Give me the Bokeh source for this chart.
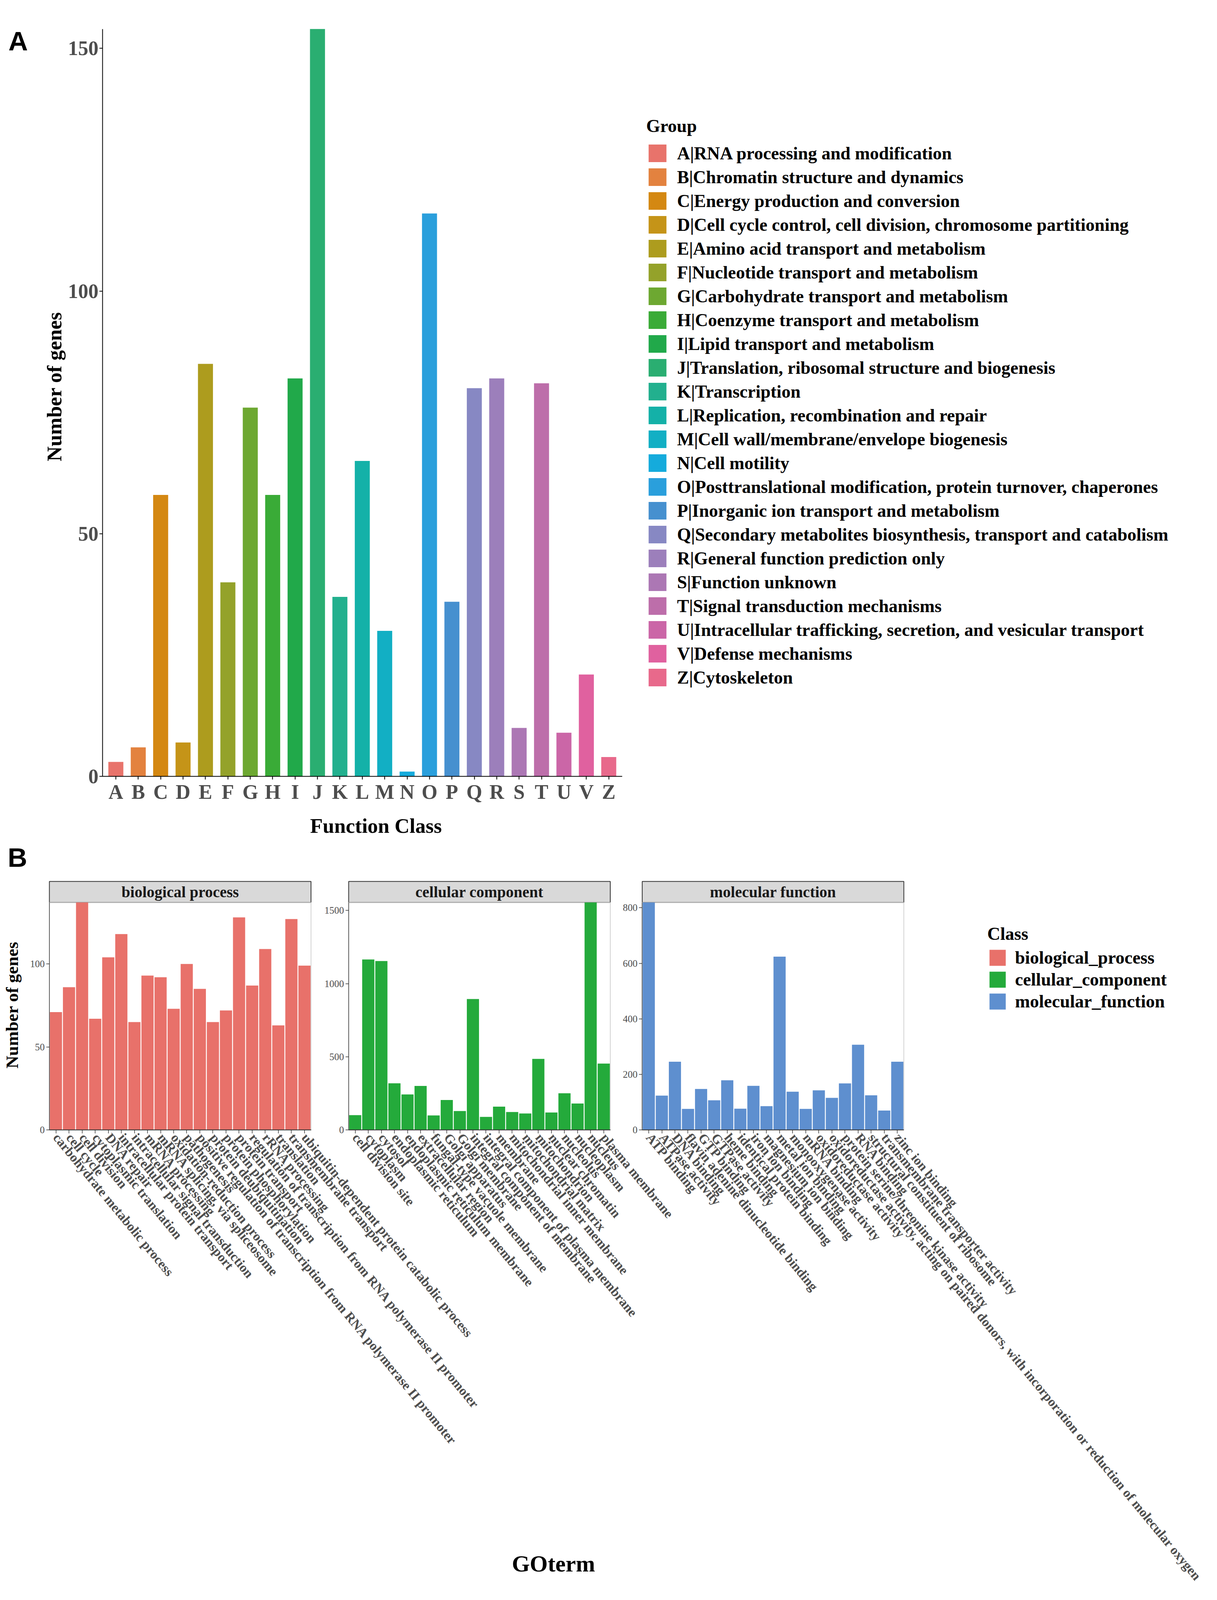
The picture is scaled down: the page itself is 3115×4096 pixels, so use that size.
from math import pi
from bokeh.plotting import figure
from bokeh.models import (ColumnDataSource, Range1d, Label, Legend, LegendItem,
                          SingleIntervalTicker, FixedTicker, LinearAxis)
from bokeh.layouts import column
from bokeh.core.properties import value
from bokeh.embed import file_html
from bokeh.resources import INLINE

# ---------------- data : panel A (COG function classes) ----------------
cog_letters = ["A", "B", "C", "D", "E", "F", "G", "H", "I", "J", "K", "L", "M",
               "N", "O", "P", "Q", "R", "S", "T", "U", "V", "Z"]
cog_groups = [
    "A|RNA processing and modification",
    "B|Chromatin structure and dynamics",
    "C|Energy production and conversion",
    "D|Cell cycle control, cell division, chromosome partitioning",
    "E|Amino acid transport and metabolism",
    "F|Nucleotide transport and metabolism",
    "G|Carbohydrate transport and metabolism",
    "H|Coenzyme transport and metabolism",
    "I|Lipid transport and metabolism",
    "J|Translation, ribosomal structure and biogenesis",
    "K|Transcription",
    "L|Replication, recombination and repair",
    "M|Cell wall/membrane/envelope biogenesis",
    "N|Cell motility",
    "O|Posttranslational modification, protein turnover, chaperones",
    "P|Inorganic ion transport and metabolism",
    "Q|Secondary metabolites biosynthesis, transport and catabolism",
    "R|General function prediction only",
    "S|Function unknown",
    "T|Signal transduction mechanisms",
    "U|Intracellular trafficking, secretion, and vesicular transport",
    "V|Defense mechanisms",
    "Z|Cytoskeleton",
]
cog_counts = [3, 6, 58, 7, 85, 40, 76, 58, 82, 154, 37, 65, 30, 1, 116, 36, 80, 82, 10, 81, 9, 21, 4]
cog_colors = ["#E8736B", "#E3823F", "#D48812", "#C59418", "#AD9C1E", "#94A22A", "#6DA831",
              "#3AAB37", "#21A94A", "#2AAE71", "#22B08E", "#14B1A8", "#12AFC4", "#15ABDC",
              "#2A9FDC", "#4690CF", "#8788C3", "#9C7FBB", "#AC77B4", "#BD6EAA", "#CB66A7",
              "#E0619F", "#E8698B"]

# ---------------- data : panel B (GO terms) ----------------
facet_names = ["biological process", "cellular component", "molecular function"]
class_names = ["biological_process", "cellular_component", "molecular_function"]
class_colors = ["#E8716A", "#24AA3B", "#5E8FCF"]

bp_terms = ["carbohydrate metabolic process", "cell cycle", "cell division", "cytoplasmic translation",
            "DNA repair", "intracellular protein transport", "intracellular signal transduction",
            "mRNA processing", "mRNA splicing, via spliceosome", "oxidation-reduction process",
            "pathogenesis", "positive regulation of transcription from RNA polymerase II promoter",
            "protein deubiquitination", "protein phosphorylation", "protein transport",
            "regulation of transcription from RNA polymerase II promoter", "rRNA processing",
            "translation", "transmembrane transport", "ubiquitin-dependent protein catabolic process"]
bp_counts = [71, 86, 137, 67, 104, 118, 65, 93, 92, 73, 100, 85, 65, 72, 128, 87, 109, 63, 127, 99]

cc_terms = ["cell division site", "cytoplasm", "cytosol", "endoplasmic reticulum",
            "endoplasmic reticulum membrane", "extracellular region", "fungal-type vacuole membrane",
            "Golgi apparatus", "Golgi membrane", "integral component of membrane",
            "integral component of plasma membrane", "membrane", "mitochondrial inner membrane",
            "mitochondrial matrix", "mitochondrion", "nuclear chromatin", "nucleolus",
            "nucleoplasm", "nucleus", "plasma membrane"]
cc_counts = [102, 1165, 1154, 319, 243, 301, 100, 205, 130, 895, 90, 160, 123, 113, 486, 120, 251, 181, 1554, 454]

mf_terms = ["ATP binding", "ATPase activity", "DNA binding", "flavin adenine dinucleotide binding",
            "GTP binding", "GTPase activity", "heme binding", "identical protein binding",
            "iron ion binding", "magnesium ion binding", "metal ion binding", "monooxygenase activity",
            "mRNA binding", "oxidoreductase activity",
            "oxidoreductase activity, acting on paired donors, with incorporation or reduction of molecular oxygen",
            "protein serine/threonine kinase activity", "RNA binding", "structural constituent of ribosome",
            "transmembrane transporter activity", "zinc ion binding"]
mf_counts = [819, 124, 246, 76, 148, 107, 179, 77, 159, 86, 624, 138, 76, 143, 116, 168, 307, 125, 70, 246]

# ---------------- layout helpers ----------------
S = 0.884
def L(v):            # reference pixel -> page pixel inside the 8px margin
    return S * v - 8

W = 3099
SERIF = "Liberation Serif"
SANS = "Liberation Sans"

def styled_axis(ax, size, bold, color, tick_out, tick_w, line_w, line_color="black"):
    ax.axis_line_color = line_color
    ax.axis_line_width = line_w
    ax.major_tick_line_color = line_color
    ax.major_tick_line_width = tick_w
    ax.major_tick_out = tick_out
    ax.major_tick_in = 0
    ax.minor_tick_line_color = None
    ax.major_label_text_font = SERIF
    ax.major_label_text_font_size = size
    ax.major_label_text_font_style = "bold" if bold else "normal"
    ax.major_label_text_color = color
    return ax

# ======================= Panel A =======================
A_H = 2150
a_l, a_r = L(305), L(1810)          # frame edges (page px)
a_t, a_b = L(92.5), L(2257)
cog_pos = [i + 1 for i in range(len(cog_letters))]
xa_lo, xa_hi = 0.4, len(cog_letters) + 0.6     # ggplot discrete expansion
sxA = (a_r - a_l) / (xa_hi - xa_lo)
ya_hi = max(cog_counts)
syA = (a_b - a_t) / ya_hi

pA = figure(width=W, height=A_H, title=None,
            x_range=Range1d(xa_lo - a_l / sxA, xa_lo + (W - a_l) / sxA),
            y_range=Range1d(-(A_H - a_b) / syA, ya_hi + a_t / syA),
            x_axis_location=None, y_axis_location=None,
            output_backend="svg", toolbar_location=None, min_border=0)
pA.outline_line_color = None
pA.grid.visible = False

srcA = ColumnDataSource(dict(x=cog_pos, count=cog_counts, color=cog_colors, group=cog_groups))
rA = pA.vbar(x="x", top="count", width=0.67, fill_color="color", line_color=None, source=srcA)

xaxA = LinearAxis(fixed_location=0, bounds=(xa_lo, xa_hi),
                  ticker=FixedTicker(ticks=cog_pos, minor_ticks=[]),
                  major_label_overrides=dict(zip(cog_pos, cog_letters)))
styled_axis(xaxA, "52px", True, "#4d4d4d", 8, 2, 2)
xaxA.major_label_standoff = 3
pA.add_layout(xaxA, "below")

yaxA = LinearAxis(fixed_location=xa_lo, bounds=(0, ya_hi),
                  ticker=SingleIntervalTicker(interval=50, num_minor_ticks=0))
styled_axis(yaxA, "52px", True, "#4d4d4d", 8, 2, 2)
yaxA.major_label_standoff = 2
pA.add_layout(yaxA, "left")

def labelA(x, y, text, size, font=SERIF, angle=0):
    pA.add_layout(Label(x=L(x), y=A_H - L(y), x_units="screen", y_units="screen",
                        text=text, angle=angle, text_align="center", text_baseline="middle",
                        text_font=font, text_font_size=size, text_font_style="bold",
                        text_color="black"))

labelA(166, 1128, "Number of genes", "53px", angle=pi / 2)
labelA(1097, 2400, "Function Class", "53px")
labelA(61, 128, "A", "69px", font=SANS)

itemsA = [LegendItem(label=value(g), renderers=[rA], index=i) for i, g in enumerate(cog_groups)]
legA = Legend(items=itemsA, location=(round(L(1880)), round(A_H - L(2002))),
              title="Group", orientation="vertical",
              glyph_width=57, glyph_height=56, label_height=56, spacing=5,
              padding=0, margin=0, label_standoff=22,
              border_line_color=None, background_fill_alpha=0,
              label_text_font=SERIF, label_text_font_size="46px", label_text_font_style="bold",
              label_text_color="black",
              title_text_font=SERIF, title_text_font_size="46px", title_text_font_style="bold",
              title_text_color="black", title_standoff=15)
pA.add_layout(legA)

# ======================= Panel B =======================
B_H = 4080 - A_H
b_l = L(151.5)
f_bot = L(3281) - A_H          # facet bottom (canvas px from top)
f_top = L(2622) - A_H          # facet top / strip bottom
s_top = L(2561) - A_H          # strip top
facet_h = f_bot - f_top
strip_top = f_bot - s_top
pitch_ref = 757.5 / 20
pitch = S * pitch_ref
facet_left_ref = [151.5, 1018, 1868]
starts = [0.5 + (r - facet_left_ref[0]) / pitch_ref for r in facet_left_ref]

pB = figure(width=W, height=B_H, title=None,
            x_range=Range1d(0.5 - b_l / pitch, 0.5 + (W - b_l) / pitch),
            y_range=Range1d(-(B_H - f_bot), f_bot),
            x_axis_location=None, y_axis_location=None,
            output_backend="svg", toolbar_location=None, min_border=0)
pB.outline_line_color = None
pB.grid.visible = False

series = [("bp", bp_terms, bp_counts, 50), ("cc", cc_terms, cc_counts, 500), ("mf", mf_terms, mf_counts, 200)]
pB.extra_y_ranges = {name: Range1d(-(B_H - f_bot) * max(cnt) / facet_h, f_bot * max(cnt) / facet_h)
                     for name, _, cnt, _ in series}

f_left = starts
f_right = [s + 20 for s in starts]

# facet strips
pB.quad(left=f_left, right=f_right, bottom=facet_h, top=strip_top, fill_color="#D9D9D9",
        line_color="#333333", line_width=2)
pB.text(x=[s + 10 for s in starts], y=[(facet_h + strip_top) / 2] * 3, text=facet_names,
        text_font=value(SERIF), text_font_size="40px", text_font_style="bold",
        text_align="center", text_baseline="middle", text_color="#1a1a1a")
# panel borders
pB.quad(left=f_left, right=f_right, bottom=0, top=facet_h, fill_color=None,
        line_color="#C4C4C4", line_width=1.5)

renderersB = []
for k, (name, terms, cnt, iv) in enumerate(series):
    pos = [starts[k] + 0.5 + i for i in range(len(terms))]
    src = ColumnDataSource(dict(x=pos, top=cnt, term=terms))
    r = pB.vbar(x="x", top="top", width=0.93, source=src, y_range_name=name,
                fill_color=class_colors[k], line_color=None)
    renderersB.append(r)

    yax = LinearAxis(y_range_name=name, fixed_location=starts[k], bounds=(0, max(cnt)),
                     ticker=SingleIntervalTicker(interval=iv, num_minor_ticks=0))
    styled_axis(yax, "25px", False, "#4d4d4d", 8, 1.5, 1.5, "#333333")
    yax.major_label_standoff = 4
    pB.add_layout(yax, "left")

    xax = LinearAxis(fixed_location=0, bounds=(starts[k], starts[k] + 20),
                     ticker=FixedTicker(ticks=pos, minor_ticks=[]),
                     major_label_overrides=dict(zip(pos, terms)))
    styled_axis(xax, "34px", True, "#4d4d4d", 9, 1.5, 2, "#333333")
    xax.major_label_orientation = -0.88
    xax.major_label_standoff = 4
    pB.add_layout(xax, "below")

def labelB(x, y, text, size, font=SERIF, angle=0):
    pB.add_layout(Label(x=L(x), y=B_H - (L(y) - A_H), x_units="screen", y_units="screen",
                        text=text, angle=angle, text_align="center", text_baseline="middle",
                        text_font=font, text_font_size=size, text_font_style="bold",
                        text_color="black"))

labelB(59, 2492, "B", "69px", font=SANS)
labelB(44, 2919, "Number of genes", "45px", angle=pi / 2)
labelB(1611, 4537, "GOterm", "59px")

itemsB = [LegendItem(label=value(c), renderers=[r]) for c, r in zip(class_names, renderersB)]
legB = Legend(items=itemsB, location=(round(L(2868)), round(B_H - (L(2939) - A_H))),
              title="Class", orientation="vertical",
              glyph_width=52, glyph_height=51, label_height=51, spacing=3,
              padding=0, margin=0, label_standoff=19,
              border_line_color=None, background_fill_alpha=0,
              label_text_font=SERIF, label_text_font_size="46px", label_text_font_style="bold",
              label_text_color="black",
              title_text_font=SERIF, title_text_font_size="46px", title_text_font_style="bold",
              title_text_color="black", title_standoff=8)
pB.add_layout(legB)

layout = column(pA, pB, spacing=0)
open("out.html", "w").write(file_html(layout, INLINE))
